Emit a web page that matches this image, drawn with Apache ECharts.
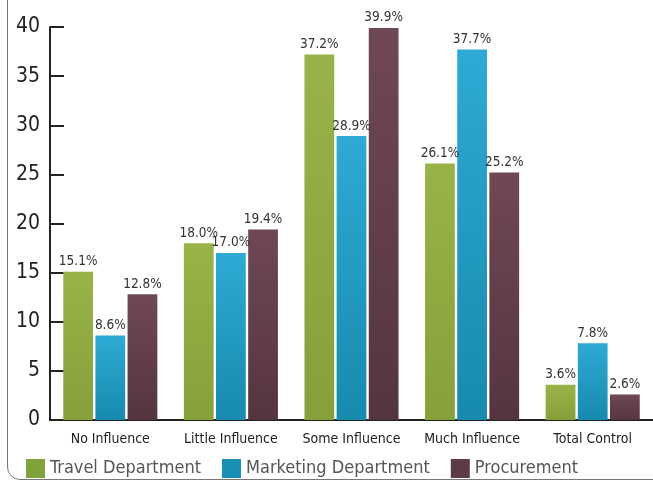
<!DOCTYPE html>
<html><head><meta charset="utf-8">
<script src="https://cdn.jsdelivr.net/npm/echarts@6/dist/echarts.min.js"></script>
<style>html,body{margin:0;padding:0;background:#fff}#c{width:653px;height:482px}</style>
</head><body><div id="c"></div>
<script>
var categories = ['No Influence', 'Little Influence', 'Some Influence', 'Much Influence', 'Total Control'];
var travel = [15.1, 18.0, 37.2, 26.1, 3.6];
var marketing = [8.6, 17.0, 28.9, 37.7, 7.8];
var procurement = [12.8, 19.4, 39.9, 25.2, 2.6];
var seriesNames = ['Travel Department', 'Marketing Department', 'Procurement'];
var yTicks = [0, 5, 10, 15, 20, 25, 30, 35, 40];

var FONT = '"DejaVu Sans Condensed", "DejaVu Sans", sans-serif';
function grad(top, bottom) {
  return new echarts.graphic.LinearGradient(0, 0, 0, 1, [{offset: 0, color: top}, {offset: 1, color: bottom}]);
}
var colors = [
  {top: '#98b348', bottom: '#86a13a', solid: '#7fa23a'},
  {top: '#2eaad4', bottom: '#178aae', solid: '#1a8fb5'},
  {top: '#704757', bottom: '#54353f', solid: '#5c3a47'}
];
var datas = [travel, marketing, procurement];
var series = datas.map(function (d, i) {
  return {
    name: seriesNames[i], type: 'bar', data: d,
    barGap: '8%', barCategoryGap: '22%',
    itemStyle: {color: grad(colors[i].top, colors[i].bottom)},
    label: {show: true, position: 'top', distance: 3, color: '#333', fontSize: 13.5, fontFamily: FONT,
      formatter: function (p) { return p.value.toFixed(1) + '%'; }}
  };
});
var frameStyle = {fill: 'none', stroke: '#777', lineWidth: 1};
var chart = echarts.init(document.getElementById('c'));
chart.setOption({
  animation: false,
  grid: {left: 50, right: -2, top: 27, bottom: 62, containLabel: false},
  legend: {
    left: 21, top: 454, itemWidth: 19, itemHeight: 19, itemGap: 21, icon: 'rect',
    textStyle: {color: '#555', fontSize: 18, fontFamily: FONT},
    data: seriesNames.map(function (n, i) { return {name: n, itemStyle: {color: colors[i].solid}}; })
  },
  xAxis: {
    type: 'category', data: categories,
    axisLine: {lineStyle: {color: '#222', width: 2}},
    axisTick: {inside: true, length: 9, lineStyle: {color: '#222', width: 2}},
    axisLabel: {color: '#222', fontSize: 14, fontFamily: FONT, margin: 12, interval: 0}
  },
  yAxis: {
    type: 'value', min: 0, max: 40, interval: 5,
    axisLine: {show: true, lineStyle: {color: '#222', width: 2}},
    axisTick: {show: true, inside: true, length: 14, lineStyle: {color: '#222', width: 2}},
    splitLine: {show: false},
    axisLabel: {color: '#222', fontSize: 21, fontFamily: FONT, margin: 10,
      formatter: function (v) { return yTicks.indexOf(v) >= 0 ? String(v) : ''; }}
  },
  graphic: [
    {type: 'line', silent: true, z: -1, shape: {x1: 7.5, y1: -10, x2: 7.5, y2: 467}, style: frameStyle},
    {type: 'arc', silent: true, z: -1, shape: {cx: 20, cy: 467, r: 12.5, startAngle: Math.PI / 2, endAngle: Math.PI}, style: frameStyle},
    {type: 'line', silent: true, z: -1, shape: {x1: 20, y1: 479.5, x2: 900, y2: 479.5}, style: frameStyle}
  ],
  series: series
});
</script></body></html>
